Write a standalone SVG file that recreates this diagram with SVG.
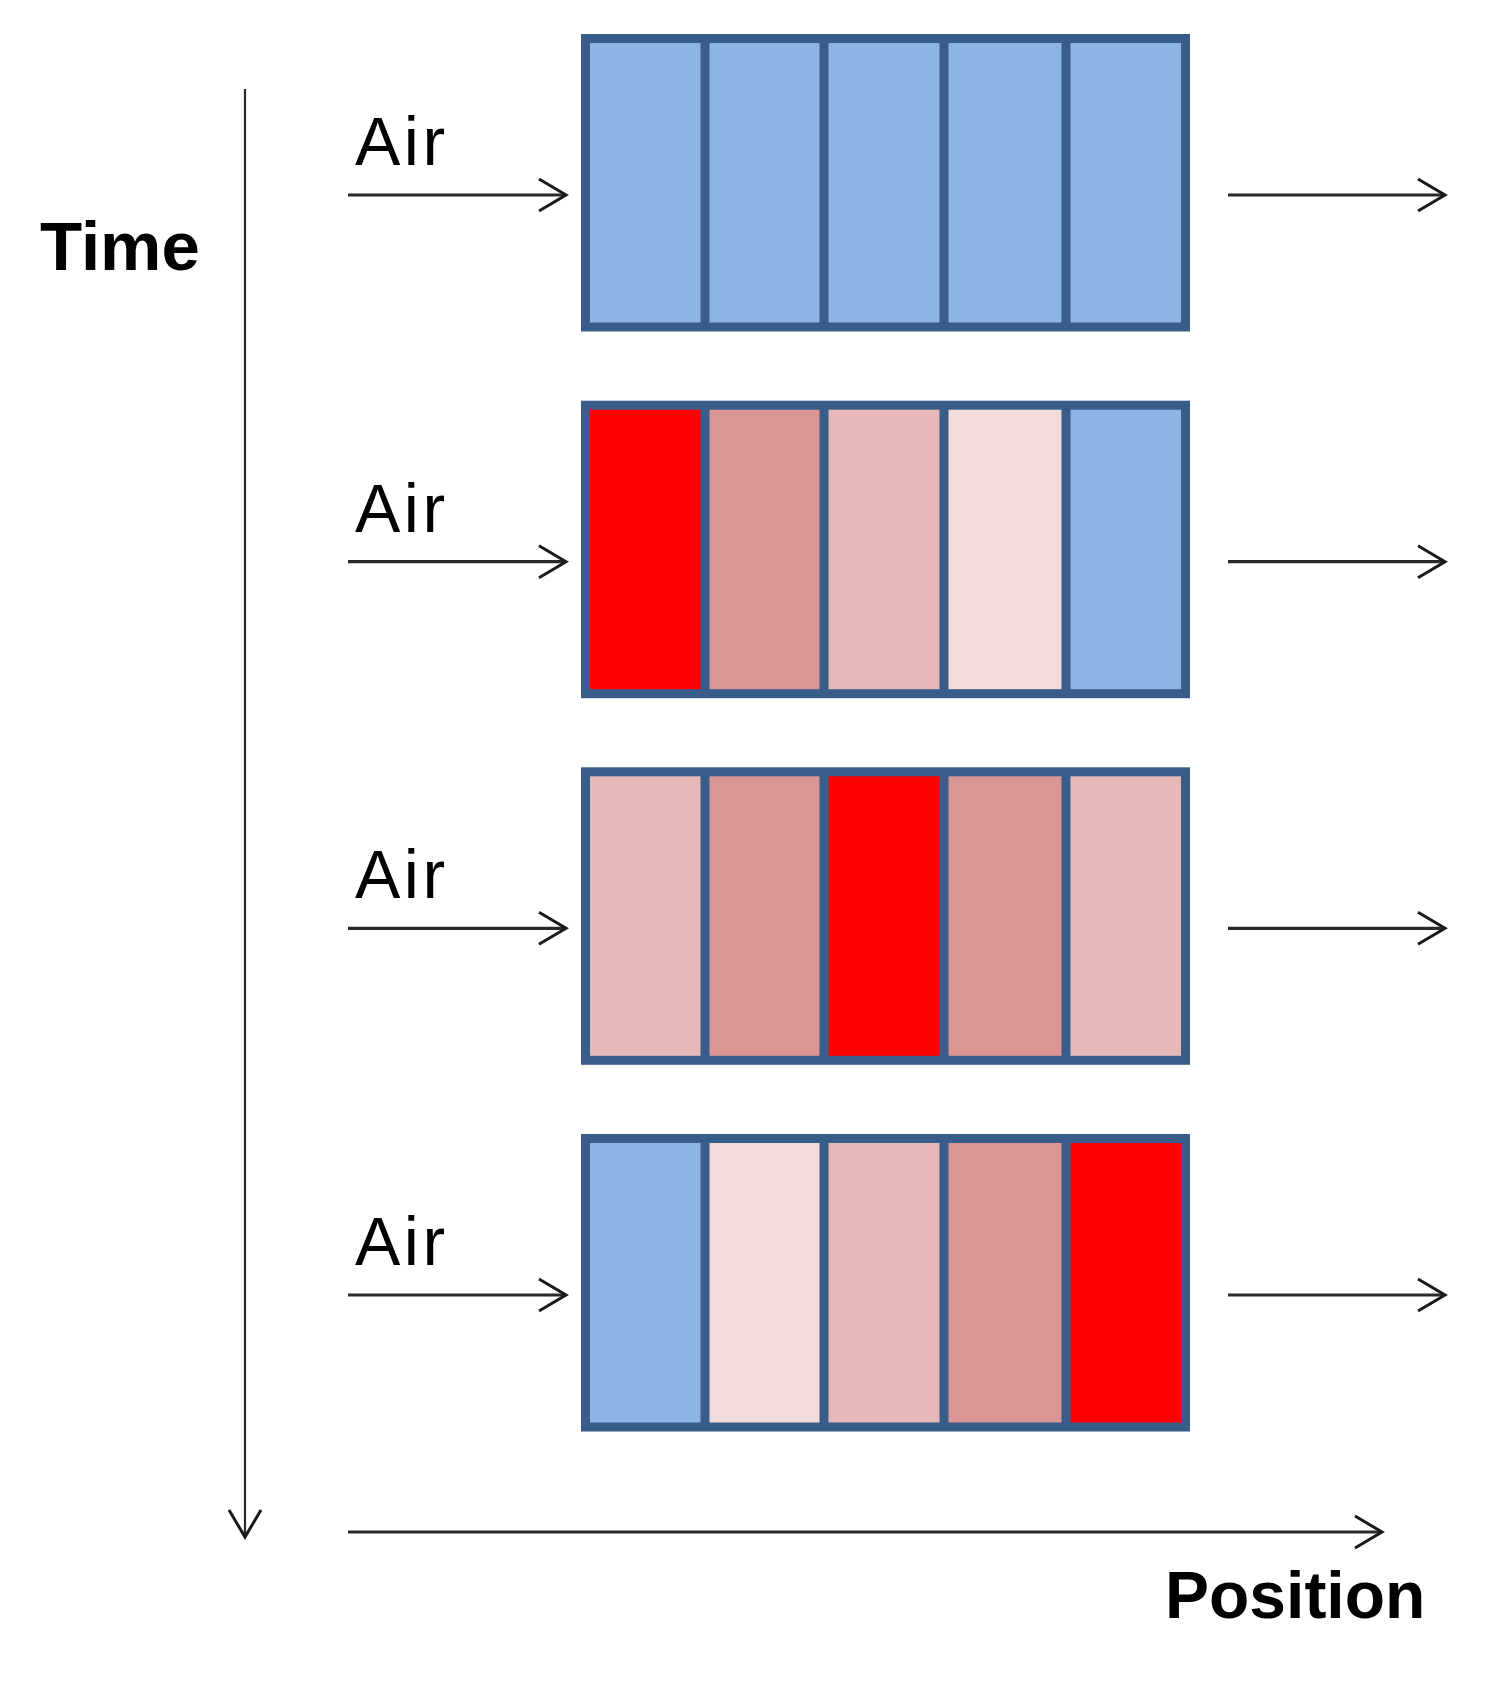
<svg xmlns="http://www.w3.org/2000/svg" width="1511" height="1681" viewBox="0 0 1511 1681">
  <defs>
    <style>
      .air { font-family: "Liberation Sans", Arial, sans-serif; font-size: 68px; letter-spacing: 3.5px; fill: #000; }
      .axis { font-family: "Liberation Sans", Arial, sans-serif; font-weight: bold; fill: #000; }
      .frame { fill: none; stroke: #385D8A; stroke-width: 9; }
      .div { stroke: #385D8A; stroke-width: 9; }
      .conn { stroke: #2a2a2a; stroke-width: 3.2; fill: none; marker-end: url(#chev); }
      .b { fill: #8EB4E3; }
      .r { fill: #FF0000; }
      .p1 { fill: #D99694; }
      .p2 { fill: #E6B9B8; }
      .p3 { fill: #F2DCDB; }
    </style>
    <marker id="chev" markerUnits="userSpaceOnUse" markerWidth="40" markerHeight="40" viewBox="-32 -20 36 40" refX="0" refY="0" orient="auto">
      <path d="M-27,-16 L0,0 L-27,16" fill="none" stroke="#1a1a1a" stroke-width="3"/>
    </marker>
    <g id="grid">
      <rect class="frame" x="585.5" y="4.5" width="600" height="288.5"/>
      <line class="div" x1="705" y1="4.5" x2="705" y2="293"/>
      <line class="div" x1="824" y1="4.5" x2="824" y2="293"/>
      <line class="div" x1="944" y1="4.5" x2="944" y2="293"/>
      <line class="div" x1="1066" y1="4.5" x2="1066" y2="293"/>
    </g>
  </defs>

  <g id="row1" transform="translate(0,34)">
    <rect class="b" x="585.5" y="4.5" width="119.5" height="288.5"/>
    <rect class="b" x="705" y="4.5" width="119" height="288.5"/>
    <rect class="b" x="824" y="4.5" width="120" height="288.5"/>
    <rect class="b" x="944" y="4.5" width="122" height="288.5"/>
    <rect class="b" x="1066" y="4.5" width="119.5" height="288.5"/>
    <use href="#grid"/>
  </g>
  <g id="row2" transform="translate(0,400.7)">
    <rect class="r" x="585.5" y="4.5" width="119.5" height="288.5"/>
    <rect class="p1" x="705" y="4.5" width="119" height="288.5"/>
    <rect class="p2" x="824" y="4.5" width="120" height="288.5"/>
    <rect class="p3" x="944" y="4.5" width="122" height="288.5"/>
    <rect class="b" x="1066" y="4.5" width="119.5" height="288.5"/>
    <use href="#grid"/>
  </g>
  <g id="row3" transform="translate(0,767.3)">
    <rect class="p2" x="585.5" y="4.5" width="119.5" height="288.5"/>
    <rect class="p1" x="705" y="4.5" width="119" height="288.5"/>
    <rect class="r" x="824" y="4.5" width="120" height="288.5"/>
    <rect class="p1" x="944" y="4.5" width="122" height="288.5"/>
    <rect class="p2" x="1066" y="4.5" width="119.5" height="288.5"/>
    <use href="#grid"/>
  </g>
  <g id="row4" transform="translate(0,1134)">
    <rect class="b" x="585.5" y="4.5" width="119.5" height="288.5"/>
    <rect class="p3" x="705" y="4.5" width="119" height="288.5"/>
    <rect class="p2" x="824" y="4.5" width="120" height="288.5"/>
    <rect class="p1" x="944" y="4.5" width="122" height="288.5"/>
    <rect class="r" x="1066" y="4.5" width="119.5" height="288.5"/>
    <use href="#grid"/>
  </g>

  <g id="labels">
    <text class="air" x="355" y="165">Air</text>
    <text class="air" x="355" y="531.7">Air</text>
    <text class="air" x="355" y="898.3">Air</text>
    <text class="air" x="355" y="1265">Air</text>
    <text id="time" class="axis" x="40" y="270" font-size="69">Time</text>
    <text id="position" class="axis" x="1165" y="1618" font-size="66">Position</text>
  </g>

  <g id="connectors">
    <line class="conn" x1="348" y1="195" x2="566" y2="195"/>
    <line class="conn" x1="1228" y1="195" x2="1445" y2="195"/>
    <line class="conn" x1="348" y1="561.7" x2="566" y2="561.7"/>
    <line class="conn" x1="1228" y1="561.7" x2="1445" y2="561.7"/>
    <line class="conn" x1="348" y1="928.3" x2="566" y2="928.3"/>
    <line class="conn" x1="1228" y1="928.3" x2="1445" y2="928.3"/>
    <line class="conn" x1="348" y1="1295" x2="566" y2="1295"/>
    <line class="conn" x1="1228" y1="1295" x2="1445" y2="1295"/>
    <line class="conn" x1="245" y1="89" x2="245" y2="1537" style="stroke-width:2.2"/>
    <line class="conn" x1="348" y1="1532" x2="1382" y2="1532"/>
  </g>
</svg>
